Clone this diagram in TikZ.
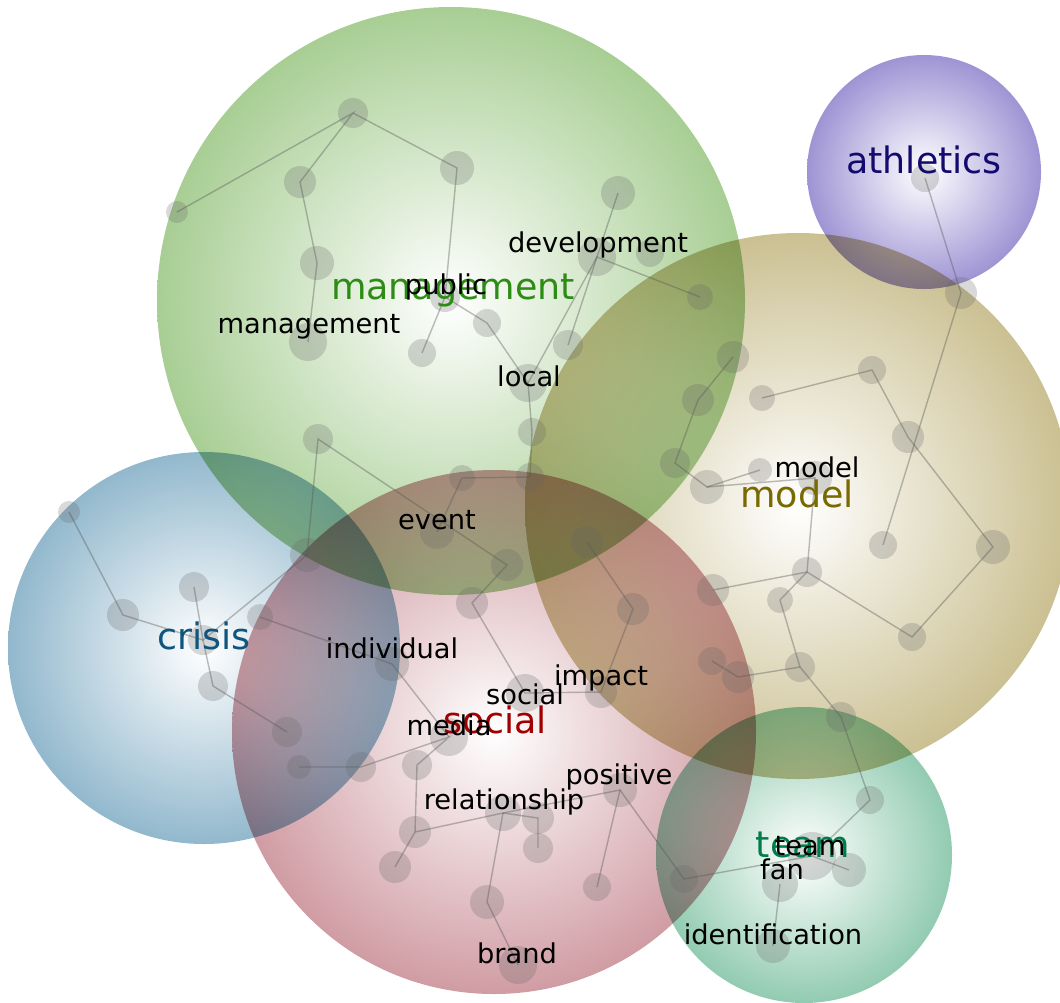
\documentclass[tikz,border=0pt]{standalone}
\usepackage{fontspec}
\setmainfont{DejaVu Sans}
\usetikzlibrary{positioning}

\definecolor{mgmtgreen}{RGB}{168,206,148}
\definecolor{athlpurple}{RGB}{158,148,212}
\definecolor{modeltan}{RGB}{203,192,146}
\definecolor{crisisblue}{RGB}{146,184,205}
\definecolor{socialred}{RGB}{208,156,163}
\definecolor{teamgreen}{RGB}{146,203,177}
\definecolor{mgmttext}{RGB}{45,140,20}
\definecolor{athltext}{RGB}{20,10,110}
\definecolor{modeltext}{RGB}{120,105,0}
\definecolor{crisistext}{RGB}{15,85,125}
\definecolor{socialtext}{RGB}{160,0,0}
\definecolor{teamtext}{RGB}{0,125,75}

\begin{document}
\begin{tikzpicture}[
    x=0.025cm, y=-0.025cm,
    sphere/.style={inner color=white, outer color=#1, blend mode=multiply},
    blob/.style={circle, draw=none, fill=black!60, fill opacity=0.25, inner sep=0pt, minimum size=#1*0.05cm},
    blob/.default=15,
    link/.style={draw=black!65, draw opacity=0.4, line width=1pt},
    word/.style={inner sep=0pt, text=black, font=\fontsize{19.4}{22}\selectfont},
    topic/.style={inner sep=0pt, text=#1, font=\fontsize{25.9}{30}\selectfont}
  ]
    \useasboundingbox (0,0) rectangle (1060,1002);
    \clip (0,0) rectangle (1060,1002);

    % topic spheres
    \shade[sphere=crisisblue] (204,648) circle (196);
    \shade[sphere=mgmtgreen] (451,301) circle (294);
    \shade[sphere=socialred] (494,732) circle (262);
    \shade[sphere=modeltan] (798,506) circle (273);
    \shade[sphere=athlpurple] (924,172) circle (117);
    \shade[sphere=teamgreen] (804,855) circle (148);

    % management words
    \node[blob=11] (a1) at (177,212) {};
    \node[blob=15] (a2) at (353,113) {};
    \node[blob=16] (a3) at (300,182) {};
    \node[blob=17] (a4) at (457,168) {};
    \node[blob=17] (a5) at (317,263) {};
    \node[blob=19] (a6) at (308,342) {};
    \node[blob=15] (pub) at (445,297) {};
    \node[blob=14] (a8) at (487,323) {};
    \node[blob=14] (a9) at (422,353) {};
    \node[blob=19] (loc) at (528,383) {};
    \node[blob=14] (a11) at (532,432) {};
    \node[blob=14] (a12) at (530,477) {};
    \node[blob=13] (a13) at (462,478) {};
    \node[blob=17] (evt) at (437,532) {};
    \node[blob=15] (a15) at (318,439) {};
    \node[blob=19] (dev) at (597,257) {};
    \node[blob=14] (a17) at (650,253) {};
    \node[blob=17] (a18) at (618,193) {};
    \node[blob=13] (a19) at (700,297) {};
    \node[blob=15] (a20) at (568,345) {};

    % model words
    \node[blob=16] (m1) at (733,357) {};
    \node[blob=16] (m2) at (698,400) {};
    \node[blob=15] (m3) at (675,463) {};
    \node[blob=17] (m4) at (707,487) {};
    \node[blob=12] (m5) at (760,470) {};
    \node[blob=17] (mod) at (815,478) {};
    \node[blob=13] (m7) at (762,398) {};
    \node[blob=14] (m8) at (872,370) {};
    \node[blob=16] (m9) at (908,437) {};
    \node[blob=14] (m10) at (883,545) {};
    \node[blob=17] (m11) at (993,547) {};
    \node[blob=14] (m12) at (912,637) {};
    \node[blob=15] (m13) at (807,572) {};
    \node[blob=16] (m14) at (713,590) {};
    \node[blob=13] (m15) at (780,600) {};
    \node[blob=15] (m16) at (800,667) {};
    \node[blob=14] (m17) at (712,661) {};
    \node[blob=16] (m18) at (738,677) {};
    \node[blob=15] (m19) at (841,717) {};

    % athletics words
    \node[blob=14] (t1) at (925,178) {};
    \node[blob=16] (t2) at (961,293) {};

    % crisis words
    \node[blob=11] (c1) at (69,512) {};
    \node[blob=16] (c2) at (123,615) {};
    \node[blob=15] (c3) at (194,587) {};
    \node[blob=15] (c4) at (203,640) {};
    \node[blob=15] (c5) at (213,686) {};
    \node[blob=15] (c6) at (287,732) {};
    \node[blob=12] (c7) at (299,767) {};
    \node[blob=15] (c8) at (361,767) {};
    \node[blob=13] (c9) at (260,617) {};
    \node[blob=17] (c10) at (307,555) {};

    % social words
    \node[blob=17] (ind) at (392,664) {};
    \node[blob=19] (med) at (449,737) {};
    \node[blob=15] (s1) at (417,765) {};
    \node[blob=16] (s2) at (415,832) {};
    \node[blob=16] (s3) at (395,867) {};
    \node[blob=18] (rel) at (503,813) {};
    \node[blob=16] (s5) at (538,818) {};
    \node[blob=15] (s6) at (538,848) {};
    \node[blob=17] (s7) at (487,902) {};
    \node[blob=19] (brd) at (518,965) {};
    \node[blob=17] (pos) at (620,790) {};
    \node[blob=14] (s10) at (597,887) {};
    \node[blob=14] (s11) at (684,879) {};
    \node[blob=19] (soc) at (525,693) {};
    \node[blob=16] (imp) at (601,692) {};
    \node[blob=16] (s14) at (472,603) {};
    \node[blob=16] (s15) at (507,565) {};
    \node[blob=16] (s16) at (587,542) {};
    \node[blob=16] (s17) at (633,609) {};

    % team words
    \node[blob=24] (tm) at (812,856) {};
    \node[blob=18] (fan) at (780,884) {};
    \node[blob=17] (t3) at (849,870) {};
    \node[blob=14] (t4) at (870,800) {};
    \node[blob=17] (idn) at (773,946) {};

    % links
    \draw[link] (a1.center) -- (a2.center) -- (a3.center) -- (a5.center) -- (a6.center);
    \draw[link] (a2.center) -- (a4.center) -- (pub.center) -- (a9.center);
    \draw[link] (pub.center) -- (a8.center) -- (loc.center);
    \draw[link] (a18.center) -- (a20.center);
    \draw[link] (loc.center) -- (dev.center) -- (a19.center);
    \draw[link] (loc.center) -- (a11.center) -- (a12.center) -- (a13.center) -- (evt.center);
    \draw[link] (c10.center) -- (a15.center) -- (s15.center) -- (s14.center) -- (soc.center) -- (imp.center) -- (s17.center) -- (s16.center);
    \draw[link] (m1.center) -- (m2.center) -- (m3.center) -- (m4.center) -- (m5.center);
    \draw[link] (m4.center) -- (mod.center) -- (m13.center) -- (m14.center);
    \draw[link] (m13.center) -- (m15.center) -- (m16.center);
    \draw[link] (m13.center) -- (m12.center) -- (m11.center) -- (m9.center) -- (m8.center) -- (m7.center);
    \draw[link] (t1.center) -- (t2.center) -- (m10.center);
    \draw[link] (m17.center) -- (m18.center) -- (m16.center) -- (m19.center) -- (t4.center) -- (tm.center) -- (t3.center);
    \draw[link] (s11.center) -- (tm.center);
    \draw[link] (fan.center) -- (idn.center);
    \draw[link] (c1.center) -- (c2.center) -- (c4.center) -- (c5.center) -- (c6.center);
    \draw[link] (c3.center) -- (c4.center) -- (c10.center);
    \draw[link] (c9.center) -- (ind.center) -- (med.center);
    \draw[link] (c7.center) -- (c8.center) -- (med.center) -- (s1.center) -- (s2.center) -- (s3.center);
    \draw[link] (s2.center) -- (rel.center) -- (s5.center) -- (s6.center);
    \draw[link] (rel.center) -- (s7.center) -- (brd.center);
    \draw[link] (rel.center) -- (pos.center) -- (s10.center);
    \draw[link] (pos.center) -- (s11.center);

    % topic labels
    \node[topic=crisistext] (crisislbl) at (204,636) {crisis};
    \node[topic=mgmttext] (mgmtlbl) at (453,290) {management};
    \node[topic=socialtext] (sociallbl) at (495,720) {social};
    \node[topic=modeltext] (modellbl) at (797,494) {model};
    \node[topic=athltext] (athllbl) at (924,160) {athletics};
    \node[topic=teamtext] (teamlbl) at (803,845) {team};

    % word labels
    \node[word] (devlbl) at (598,245) {development};
    \node[word] (publbl) at (446,287) {public};
    \node[word] (mgmtword) at (309,327) {management};
    \node[word] (loclbl) at (529,376) {local};
    \node[word] (modword) at (817,467) {model};
    \node[word] (evtlbl) at (437,520) {event};
    \node[word] (indlbl) at (392,648) {individual};
    \node[word] (implbl) at (601,678) {impact};
    \node[word] (socword) at (525,694) {social};
    \node[word] (medlbl) at (449,725) {media};
    \node[word] (poslbl) at (619,777) {positive};
    \node[word] (rellbl) at (504,802) {relationship};
    \node[word] (teamword) at (810,846) {team};
    \node[word] (fanlbl) at (782,869) {fan};
    \node[word] (idnlbl) at (773,934) {identification};
    \node[word] (brdlbl) at (517,953) {brand};
\end{tikzpicture}
\end{document}
